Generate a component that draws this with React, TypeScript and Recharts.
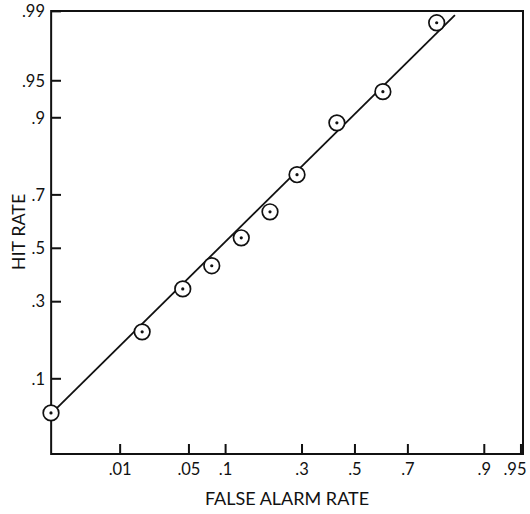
import React from "react";
import { ScatterChart, Scatter, XAxis, YAxis, ReferenceArea, Label } from "recharts";

// observed (false alarm rate, hit rate) pairs
const falseAlarm = [0.0013, 0.0175, 0.044, 0.078, 0.13, 0.2, 0.283, 0.429, 0.609, 0.791];
const hitRate = [0.053, 0.206, 0.345, 0.432, 0.541, 0.64, 0.765, 0.891, 0.938, 0.9866];

// fitted line end points
const lineFA = [0.0013, 0.839];
const lineHit = [0.052, 0.989];

const xTickValues = [0.01, 0.05, 0.1, 0.3, 0.5, 0.7, 0.9, 0.95];
const yTickValues = [0.1, 0.3, 0.5, 0.7, 0.9, 0.95, 0.99];

// axis limits in z units (normal-deviate scale)
const xDomain = [-3.01, 1.665];
const yDomain = [-2.02, 2.33];

// inverse normal CDF (Acklam)
function probit(p: number) {
    const a = [-39.69683028665376, 220.9460984245205, -275.9285104469687, 138.357751867269, -30.66479806614716, 2.506628277459239];
    const b = [-54.47609879822406, 161.5858368580409, -155.6989798598866, 66.80131188771972, -13.28068155288572];
    const c = [-0.007784894002430293, -0.3223964580411365, -2.400758277161838, -2.549732539343734, 4.374664141464968, 2.938163982698783];
    const d = [0.007784695709041462, 0.3224671290700398, 2.445134137142996, 3.754408661907416];
    const pl = 0.02425;
    if (p < pl) {
        const q = Math.sqrt(-2 * Math.log(p));
        return (((((c[0] * q + c[1]) * q + c[2]) * q + c[3]) * q + c[4]) * q + c[5]) / ((((d[0] * q + d[1]) * q + d[2]) * q + d[3]) * q + 1);
    }
    if (p > 1 - pl) {
        const q = Math.sqrt(-2 * Math.log(1 - p));
        return -(((((c[0] * q + c[1]) * q + c[2]) * q + c[3]) * q + c[4]) * q + c[5]) / ((((d[0] * q + d[1]) * q + d[2]) * q + d[3]) * q + 1);
    }
    const q = p - 0.5;
    const r = q * q;
    return ((((((a[0] * r + a[1]) * r + a[2]) * r + a[3]) * r + a[4]) * r + a[5]) * q) / (((((b[0] * r + b[1]) * r + b[2]) * r + b[3]) * r + b[4]) * r + 1);
}

const points = falseAlarm.map((fa, i) => ({ x: probit(fa), y: probit(hitRate[i]) }));
const fitLine = lineFA.map((fa, i) => ({ x: probit(fa), y: probit(lineHit[i]) }));

const fmt = (p: number) => String(p).replace(/^0/, "");
const labelFor = (vals: number[]) => (v: number) => {
    let best = vals[0];
    vals.forEach((p) => {
        if (Math.abs(probit(p) - v) < Math.abs(probit(best) - v)) best = p;
    });
    return fmt(best);
};
const xLabel = labelFor(xTickValues);
const yLabel = labelFor(yTickValues);

const ink = "#111";
const font = "Lato, 'Liberation Sans', sans-serif";

function Dot(props: any) {
    const { cx, cy } = props;
    return (
        <g>
            <circle cx={cx} cy={cy} r={7.8} fill="#fff" stroke={ink} strokeWidth={1.7} />
            <circle cx={cx} cy={cy} r={1.6} fill={ink} />
        </g>
    );
}

// inward tick drawn as a small filled bar, label outside
function XTick(props: any) {
    const { x, y, payload } = props;
    const t = xLabel(payload.value);
    const last = t === ".95";
    return (
        <g>
            <rect x={x - 1} y={y - 10} width={2} height={10} fill={ink} />
            <text x={last ? x - 6 : x} y={y + 9} dy="0.71em" textAnchor="middle" fill={ink} fontSize={16.5} fontFamily={font}>
                {t}
            </text>
        </g>
    );
}

function YTick(props: any) {
    const { x, y, payload } = props;
    return (
        <g>
            <rect x={x} y={y - 1} width={10} height={2} fill={ink} />
            <text x={x - 6} y={y} dy="0.35em" textAnchor="end" fill={ink} fontSize={16.5} fontFamily={font}>
                {yLabel(payload.value)}
            </text>
        </g>
    );
}

function App() {
    return (
        <div style={{ position: "absolute", left: 0, top: 0, background: "#fff" }}>
            <ScatterChart width={530} height={514} margin={{ top: 11, right: 7, bottom: 0, left: 0 }}>
                <ReferenceArea x1={xDomain[0]} x2={xDomain[1]} y1={yDomain[0]} y2={yDomain[1]} fill="none" stroke={ink} strokeWidth={2} fillOpacity={0} />
                <XAxis
                    type="number"
                    dataKey="x"
                    domain={xDomain}
                    ticks={xTickValues.map(probit)}
                    interval={0}
                    height={60}
                    axisLine={false}
                    tickLine={false}
                    tickSize={0}
                    tickMargin={0}
                    tick={<XTick />}
                >
                    <Label value="FALSE ALARM RATE" position="insideBottom" offset={9} style={{ fill: ink, fontSize: 18, fontFamily: font }} />
                </XAxis>
                <YAxis
                    type="number"
                    dataKey="y"
                    domain={yDomain}
                    ticks={yTickValues.map(probit)}
                    interval={0}
                    width={51}
                    axisLine={false}
                    tickLine={false}
                    tickSize={0}
                    tickMargin={0}
                    tick={<YTick />}
                >
                    <Label
                        content={() => (
                            <text x={25} y={232} transform="rotate(-90 25 232)" textAnchor="middle" fill={ink} fontSize={18} fontFamily={font}>
                                HIT RATE
                            </text>
                        )}
                    />
                </YAxis>
                <Scatter data={fitLine} line={{ stroke: ink, strokeWidth: 1.8 }} shape={() => null} isAnimationActive={false} />
                <Scatter data={points} shape={<Dot />} isAnimationActive={false} />
            </ScatterChart>
        </div>
    );
}

export default App;
